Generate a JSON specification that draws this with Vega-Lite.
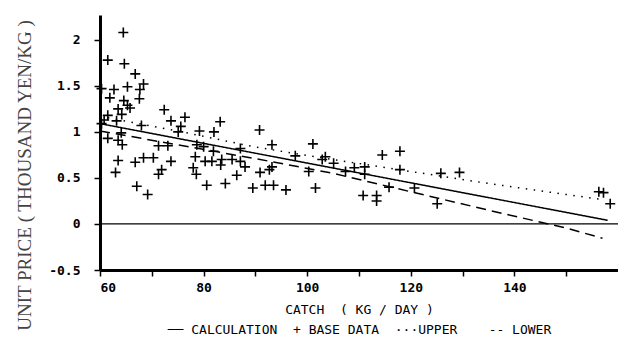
{
  "$schema": "https://vega.github.io/schema/vega-lite/v6.json",
  "width": 518,
  "height": 255,
  "autosize": {"type": "none"},
  "padding": {"left": 100, "top": 15, "right": 0, "bottom": 83},
  "background": "white",
  "config": {"view": {"stroke": null}},
  "datasets": {
    "points": [
      {"catch": 64.5, "price": 2.08}, {"catch": 61.5, "price": 1.78}, {"catch": 64.7, "price": 1.74},
      {"catch": 66.8, "price": 1.63}, {"catch": 68.4, "price": 1.52}, {"catch": 67.7, "price": 1.46},
      {"catch": 65.3, "price": 1.49}, {"catch": 62.7, "price": 1.46}, {"catch": 60.3, "price": 1.47},
      {"catch": 61.9, "price": 1.37}, {"catch": 67.6, "price": 1.36}, {"catch": 64.6, "price": 1.34},
      {"catch": 65.3, "price": 1.29}, {"catch": 65.8, "price": 1.26}, {"catch": 63.5, "price": 1.25},
      {"catch": 64.2, "price": 1.19}, {"catch": 61.5, "price": 1.18}, {"catch": 72.4, "price": 1.24},
      {"catch": 73.7, "price": 1.12}, {"catch": 63.2, "price": 1.12}, {"catch": 60.8, "price": 1.13},
      {"catch": 60.3, "price": 1.09}, {"catch": 68.0, "price": 1.07}, {"catch": 61.5, "price": 0.93},
      {"catch": 64.1, "price": 0.99}, {"catch": 63.5, "price": 0.91}, {"catch": 64.3, "price": 0.86},
      {"catch": 71.3, "price": 0.85}, {"catch": 73.1, "price": 0.85}, {"catch": 63.5, "price": 0.69},
      {"catch": 66.8, "price": 0.67}, {"catch": 68.4, "price": 0.72}, {"catch": 70.3, "price": 0.72},
      {"catch": 73.7, "price": 0.68}, {"catch": 63.0, "price": 0.56}, {"catch": 71.9, "price": 0.59},
      {"catch": 71.3, "price": 0.54}, {"catch": 67.1, "price": 0.41}, {"catch": 69.2, "price": 0.32},
      {"catch": 76.4, "price": 1.16}, {"catch": 75.6, "price": 1.06}, {"catch": 75.1, "price": 1.0},
      {"catch": 83.2, "price": 1.11}, {"catch": 79.2, "price": 1.01}, {"catch": 82.0, "price": 1.0},
      {"catch": 90.8, "price": 1.02}, {"catch": 78.7, "price": 0.86}, {"catch": 80.0, "price": 0.84},
      {"catch": 78.4, "price": 0.73}, {"catch": 81.9, "price": 0.79}, {"catch": 87.1, "price": 0.82},
      {"catch": 80.3, "price": 0.68}, {"catch": 81.6, "price": 0.68}, {"catch": 83.3, "price": 0.64},
      {"catch": 83.5, "price": 0.7}, {"catch": 85.5, "price": 0.7}, {"catch": 87.1, "price": 0.68},
      {"catch": 88.0, "price": 0.62}, {"catch": 78.0, "price": 0.61}, {"catch": 78.6, "price": 0.54},
      {"catch": 86.4, "price": 0.53}, {"catch": 80.6, "price": 0.42}, {"catch": 84.2, "price": 0.44},
      {"catch": 89.5, "price": 0.39}, {"catch": 93.2, "price": 0.86}, {"catch": 101.1, "price": 0.87},
      {"catch": 97.7, "price": 0.74}, {"catch": 103.5, "price": 0.73}, {"catch": 102.9, "price": 0.7},
      {"catch": 105.1, "price": 0.66}, {"catch": 107.4, "price": 0.57}, {"catch": 90.9, "price": 0.56},
      {"catch": 92.7, "price": 0.59}, {"catch": 93.2, "price": 0.62}, {"catch": 100.3, "price": 0.57},
      {"catch": 91.9, "price": 0.42}, {"catch": 93.5, "price": 0.42}, {"catch": 95.9, "price": 0.37},
      {"catch": 101.6, "price": 0.39}, {"catch": 109.1, "price": 0.61}, {"catch": 111.1, "price": 0.62},
      {"catch": 111.1, "price": 0.54}, {"catch": 114.5, "price": 0.75}, {"catch": 117.9, "price": 0.79},
      {"catch": 117.9, "price": 0.59}, {"catch": 110.8, "price": 0.31}, {"catch": 113.4, "price": 0.31},
      {"catch": 113.4, "price": 0.25}, {"catch": 115.8, "price": 0.4}, {"catch": 120.7, "price": 0.39},
      {"catch": 125.1, "price": 0.22}, {"catch": 125.8, "price": 0.55}, {"catch": 129.4, "price": 0.56},
      {"catch": 156.3, "price": 0.35}, {"catch": 157.2, "price": 0.34}, {"catch": 158.5, "price": 0.22}
    ],
    "lines": [
      {"series": "CALCULATION", "catch": 60, "price": 1.09},
      {"series": "CALCULATION", "catch": 158, "price": 0.04},
      {"series": "UPPER", "catch": 60, "price": 1.17},
      {"series": "UPPER", "catch": 75, "price": 1.01},
      {"series": "UPPER", "catch": 90, "price": 0.835},
      {"series": "UPPER", "catch": 105, "price": 0.7},
      {"series": "UPPER", "catch": 120, "price": 0.57},
      {"series": "UPPER", "catch": 135, "price": 0.44},
      {"series": "UPPER", "catch": 150, "price": 0.32},
      {"series": "UPPER", "catch": 157, "price": 0.265},
      {"series": "LOWER", "catch": 60, "price": 1.01},
      {"series": "LOWER", "catch": 75, "price": 0.86},
      {"series": "LOWER", "catch": 90, "price": 0.71},
      {"series": "LOWER", "catch": 105, "price": 0.55},
      {"series": "LOWER", "catch": 120, "price": 0.35},
      {"series": "LOWER", "catch": 135, "price": 0.15},
      {"series": "LOWER", "catch": 150, "price": -0.045},
      {"series": "LOWER", "catch": 157, "price": -0.155}
    ]
  },
  "layer": [
    {
      "data": {"values": [{"price": 0}]},
      "mark": {"type": "rule", "color": "black", "strokeWidth": 1.2},
      "encoding": {
        "y": {
          "field": "price", "type": "quantitative",
          "scale": {"domain": [-0.5, 2.27], "nice": false, "zero": false},
          "axis": {
            "values": [-0.5, 0, 0.5, 1, 1.5, 2],
            "format": "~g",
            "labelExpr": "replace(datum.label, '−', '-')",
            "grid": false,
            "domainColor": "black", "domainWidth": 3,
            "tickColor": "black", "tickWidth": 1.5, "tickSize": 6,
            "labelFont": "DejaVu Sans Mono", "labelFontSize": 13, "labelFontWeight": "bold", "labelColor": "black",
            "labelPadding": 14,
            "title": "UNIT PRICE ( THOUSAND YEN/KG )",
            "titleFont": "Liberation Serif", "titleFontSize": 19, "titleFontWeight": "normal",
            "titleColor": "#444", "titlePadding": 14, "titleY": 160, "titleAlign": "center"
          }
        }
      }
    },
    {
      "data": {"name": "lines"},
      "mark": {"type": "line", "color": "black", "strokeWidth": 1.5},
      "encoding": {
        "x": {
          "field": "catch", "type": "quantitative",
          "scale": {"domain": [60, 160], "nice": false, "zero": false},
          "axis": {
            "values": [60, 70, 80, 90, 100, 110, 120, 130, 140, 150],
            "labelExpr": "datum.value % 20 == 0 ? datum.label : ''",
            "grid": false,
            "domainColor": "black", "domainWidth": 3,
            "tickColor": "black", "tickWidth": 1.5, "tickSize": 6,
            "labelFont": "DejaVu Sans Mono", "labelFontSize": 13, "labelFontWeight": "bold", "labelColor": "black",
            "labelPadding": 5,
            "title": ["CATCH\u00a0\u00a0(\u00a0KG\u00a0/\u00a0DAY\u00a0)", "──\u00a0CALCULATION\u00a0\u00a0+\u00a0BASE\u00a0DATA\u00a0\u00a0···UPPER\u00a0\u00a0\u00a0\u00a0--\u00a0LOWER\u00a0\u00a0\u00a0\u00a0"],
            "titleFont": "DejaVu Sans Mono", "titleFontSize": 13, "titleFontWeight": "normal",
            "titleColor": "black", "titlePadding": 9, "titleLineHeight": 20
          }
        },
        "y": {"field": "price", "type": "quantitative"},
        "detail": {"field": "series"},
        "strokeDash": {
          "field": "series", "type": "nominal",
          "scale": {"domain": ["CALCULATION", "UPPER", "LOWER"], "range": [[1, 0], [1.5, 6.5], [10, 6]]},
          "legend": null
        }
      }
    },
    {
      "data": {"name": "points"},
      "mark": {"type": "point", "shape": "M-1,0H1M0,-1V1", "size": 100, "filled": false, "color": "black", "strokeWidth": 1.6, "opacity": 1},
      "encoding": {
        "x": {"field": "catch", "type": "quantitative"},
        "y": {"field": "price", "type": "quantitative"}
      }
    }
  ]
}
